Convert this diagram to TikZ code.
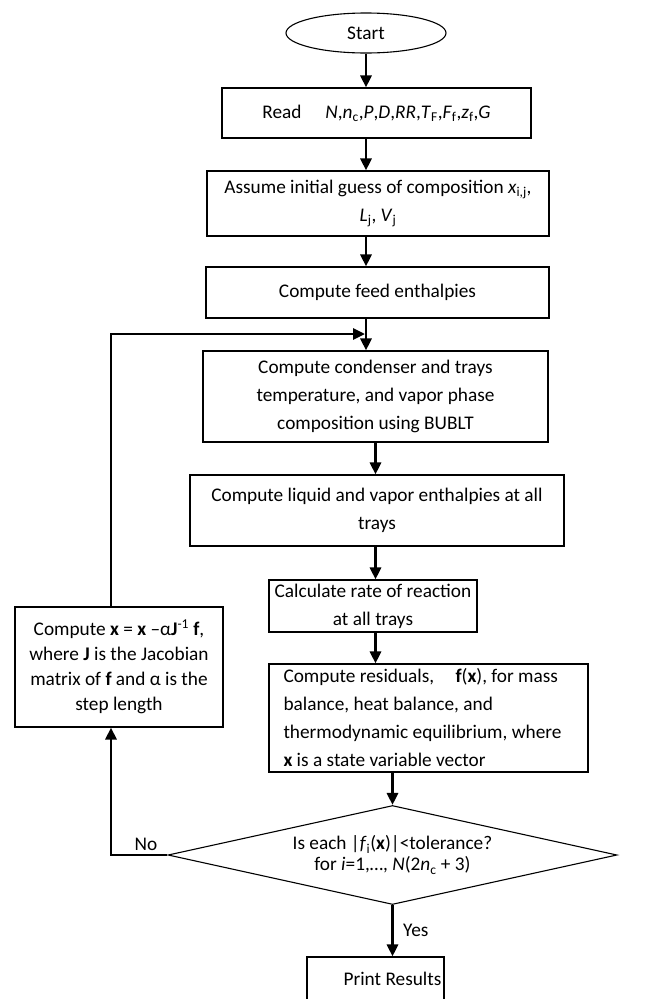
\documentclass[tikz,border=0pt]{standalone}
\usepackage{fontspec}
\setmainfont{Carlito}
\usetikzlibrary{shapes.geometric, arrows.meta}

\begin{document}
\begin{tikzpicture}[x=1pt, y=-1pt,
    box/.style={draw, line width=1.1pt, inner sep=0pt, align=center,
      font=\fontsize{19.3}{28}\selectfont},
    flow/.style={line width=2.8pt, -{Triangle[length=12pt, width=11pt]}},
    lbl/.style={font=\fontsize{19.3}{28}\selectfont}]
		\clip (0,0) rectangle (659,999);
		%%%%%%%%%%%%%
		\node[box, ellipse, minimum width=160pt, minimum height=40pt] (start) at (366, 33) {Start};
		\node[box, minimum width=309pt, minimum height=50pt] (read) at (376.5, 113)
			{Read\hspace{24pt}\textit{N},\textit{n}\textsubscript{c},\textit{P},\textit{D},\textit{RR},\textit{T}\textsubscript{F},\textit{F}\textsubscript{f},\textit{z}\textsubscript{f},\textit{G}};
		\node[box, minimum width=342pt, minimum height=65pt] (assume) at (378, 203.5)
			{Assume initial guess of composition \textit{x}\textsubscript{i,j},\\ \textit{L}\textsubscript{j}, \textit{V}\textsubscript{j}};
		\node[box, minimum width=343pt, minimum height=51pt] (feed) at (377.5, 292.5) {Compute feed enthalpies};
		\node[box, minimum width=345pt, minimum height=91pt] (cond) at (375.5, 396.5)
			{Compute condenser and trays\\temperature, and vapor phase\\composition using BUBLT};
		\node[box, minimum width=374pt, minimum height=71pt] (liquid) at (377, 510.5)
			{Compute liquid and vapor enthalpies at all\\trays};
		\node[box, minimum width=208pt, minimum height=52pt] (calc) at (373, 606)
			{Calculate rate of reaction\\at all trays};
		\node[box, minimum width=319pt, minimum height=108pt, text width=290pt, align=flush left] (resid) at (428.5, 718)
			{Compute residuals,\hspace{17pt} \textbf{f}(\textbf{x}), for mass\\balance, heat balance, and\\thermodynamic equilibrium, where\\\textbf{x} is a state variable vector};
		\node[box, minimum width=208pt, minimum height=120pt, font=\fontsize{19.3}{25}\selectfont] (update) at (119, 667)
			{Compute \textbf{x} = \textbf{x} –α\textbf{J}\textsuperscript{-1} \textbf{f},\\where \textbf{J} is the Jacobian\\matrix of \textbf{f} and α is the\\step length};
		\node[box, diamond, aspect=4.5, minimum width=449pt, minimum height=99pt, font=\fontsize{19.3}{21}\selectfont] (test) at (392.5, 855)
			{Is each |\textit{f}\textsubscript{i}(\textbf{x})|<tolerance?\\for \textit{i}=1,…, \textit{N}(2\textit{n}\textsubscript{c} + 3)};
		\node[box, minimum width=137pt, minimum height=44pt] (print) at (375.5, 979)
			{\hspace*{34pt}Print Results};
		\coordinate (bend) at (111, 855);
		\coordinate (join) at (365, 334);
		%%%%%%%%%%%%%
		\draw[flow] (start.south) -- (start.south |- read.north);
		\draw[flow] (read.south -| start) -- (assume.north -| start);
		\draw[flow] (assume.south -| start) -- (feed.north -| start);
		\draw[flow] (feed.south -| start) -- (cond.north -| start);
		\draw[flow] (cond.south) -- (cond.south |- liquid.north);
		\draw[flow] (liquid.south -| cond) -- (calc.north -| cond);
		\draw[flow] (calc.south -| cond) -- (resid.north -| cond);
		\draw[flow] (test.north |- resid.south) -- (test.north);
		\draw[flow] (test.south) -- (test.south |- print.north) node[lbl, midway, anchor=west, xshift=6pt] {Yes};
		\draw[flow] (test.west) -- (bend) node[lbl, pos=0.38, above] {No} -- (bend |- update.south);
		\draw[flow] (bend |- update.north) |- (join);
\end{tikzpicture}
\end{document}
